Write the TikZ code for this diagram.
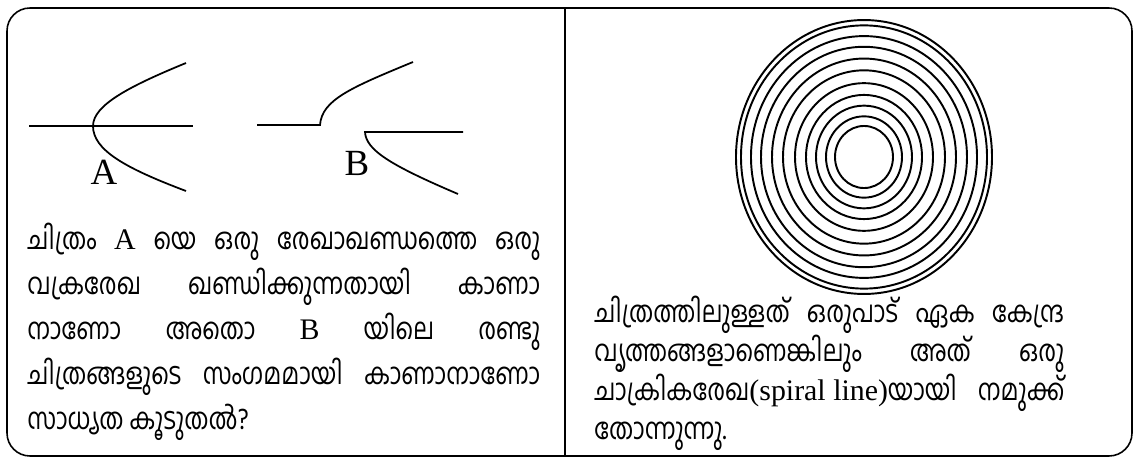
\documentclass[tikz,border=0pt]{standalone}
\usepackage{fontspec}
\setmainfont{Liberation Serif}
\newfontfamily\mal[Script=Malayalam, FakeStretch=0.8]{Hind Kochi}
\usepackage{tikz}
\usetikzlibrary{positioning}
\newcommand{\lat}[1]{\mbox{\rmfamily #1}}
\newcommand{\tightlines}{\lineskiplimit=-100pt\relax}

\begin{document}
\begin{tikzpicture}[x=0.02cm, y=-0.02cm,
            frame/.style={draw=black, line width=0.9pt, rounded corners=0.46cm},
            divider/.style={draw=black, line width=1.2pt},
            curve/.style={draw=black, line width=1pt},
            ring/.style={draw=black, line width=1.1pt},
            letter/.style={font=\fontsize{21}{25}\selectfont\rmfamily, inner sep=0pt},
            para/.style={inner sep=0pt, anchor=north west, align=justify}
          ]
          \useasboundingbox (0,0) rectangle (1134,459);
          \draw[frame] (7,8) rectangle (1132,456);
          \draw[divider] (565,8) -- (565,456);

          % figure A
          \draw[curve] (29,126) -- (193,126);
          \draw[curve] (186,63) .. controls (130,86) and (93,105) .. (93,126)
                .. controls (93,150) and (125,168) .. (186,191);
          \node[letter] (lblA) at (104,172) {A};

          % figure B
          \draw[curve] (257,125) -- (320,125) .. controls (322,100) and (350,88) .. (413,62);
          \draw[curve] (463,132) -- (365,132) .. controls (366,150) and (390,165) .. (458,194);
          \node[letter] (lblB) at (357,163) {B};

          \node[para, text width=10.26cm,
                font=\mal\fontsize{17}{25.6}\selectfont\tightlines] (txtL) at (27,223)
                {ചിത്രം \lat{A} യെ ഒരു രേഖാഖണ്ഡത്തെ ഒരു\linebreak
                 വക്രരേഖ ഖണ്ഡിക്കുന്നതായി കാണാ\linebreak
                 നാണോ അതൊ \lat{B} യിലെ രണ്ടു\linebreak
                 ചിത്രങ്ങളുടെ സംഗമമായി കാണാനാണോ\linebreak
                 സാധ്യത കൂടുതൽ?};

          % concentric rings
          \coordinate (ctr) at (864,157);
          \foreach \r in {128,123,113,103,92,81,69,58,48,38,29}
            \draw[ring] (ctr) ellipse [x radius=\r, y radius=1.07*\r];

          \node[para, text width=9.4cm,
                font=\mal\fontsize{17}{22.2}\selectfont\tightlines] (txtR) at (594,296)
                {ചിത്രത്തിലുള്ളത് ഒരുപാട് ഏക കേന്ദ്ര\linebreak
                 വൃത്തങ്ങളാണെങ്കിലും അത് ഒരു\linebreak
                 ചാക്രികരേഖ\lat{(spiral line)}യായി നമുക്ക്\linebreak
                 തോന്നുന്നു.};
        \end{tikzpicture}
\end{document}
